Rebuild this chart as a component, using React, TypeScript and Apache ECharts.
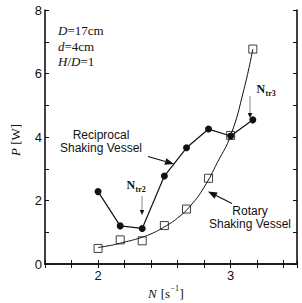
import React, { useEffect, useRef } from "react";
import * as echarts from "echarts";

// Shaking speed N [1/s] of the measured runs
const N_VALUES = [2.0, 2.167, 2.333, 2.5, 2.667, 2.833, 3.0, 3.167];
// Power consumption P [W]
const RECIPROCAL_P = [2.28, 1.2, 1.12, 2.77, 3.66, 4.25, 4.03, 4.54];
const ROTARY_P = [0.49, 0.76, 0.73, 1.21, 1.73, 2.7, 4.05, 6.77];
// Fitted curve through the rotary vessel results
const ROTARY_FIT_N = [2.0, 2.1, 2.2, 2.3, 2.4, 2.5, 2.6, 2.7, 2.8, 2.9, 3.0, 3.1, 3.167];
const ROTARY_FIT_P = [0.52, 0.59, 0.69, 0.8, 0.95, 1.17, 1.45, 1.85, 2.42, 3.2, 4.05, 5.5, 6.77];
// Axis settings
const X_MIN = 1.6;
const X_MAX = 3.5;
const X_STEP = 0.2;
const X_LABELS = [2, 3];
const Y_MIN = 0;
const Y_MAX = 8;
const Y_STEP = 1;
const Y_LABELS = [0, 2, 4, 6, 8];

const INK = "#111";
const SERIF = "'Liberation Serif', 'Times New Roman', serif";
const SANS = "'Liberation Sans', Arial, sans-serif";

function arrow(
  x1: number,
  y1: number,
  x2: number,
  y2: number,
  lineColor: string,
  lineWidth: number,
  headLen: number,
  headWidth: number
) {
  const dx = x2 - x1;
  const dy = y2 - y1;
  const len = Math.sqrt(dx * dx + dy * dy);
  const ux = dx / len;
  const uy = dy / len;
  const bx = x2 - ux * headLen;
  const by = y2 - uy * headLen;
  const px = -uy * (headWidth / 2);
  const py = ux * (headWidth / 2);
  return {
    type: "group",
    children: [
      {
        type: "line",
        shape: { x1, y1, x2: bx, y2: by },
        style: { stroke: lineColor, lineWidth },
        silent: true,
      },
      {
        type: "polygon",
        shape: {
          points: [
            [x2, y2],
            [bx + px, by + py],
            [bx - px, by - py],
          ],
        },
        style: { fill: INK },
        silent: true,
      },
    ],
  };
}

const isLabel = (v: number, list: number[]) =>
  list.some((t) => Math.abs(v - t) < 1e-6);

export default function App() {
  const ref = useRef<HTMLDivElement>(null);

  useEffect(() => {
    if (!ref.current) return;
    const chart = echarts.init(ref.current, null, { renderer: "svg" });

    const axisLine = { show: true, lineStyle: { color: INK, width: 1.6 } };
    const axisTick = { show: true, inside: true, length: 4, lineStyle: { color: INK, width: 1 } };

    const xBase = {
      type: "value",
      min: X_MIN,
      max: X_MAX,
      interval: X_STEP,
      axisLine,
      axisTick,
      splitLine: { show: false },
    };
    const yBase = {
      type: "value",
      min: Y_MIN,
      max: Y_MAX,
      interval: Y_STEP,
      axisLine,
      axisTick,
      splitLine: { show: false },
    };

    chart.setOption({
      animation: false,
      backgroundColor: "#fff",
      grid: {
        left: 45,
        top: 10,
        right: 5,
        bottom: 39,
        containLabel: false,
        outerBoundsMode: "none",
      },
      xAxis: [
        {
          ...xBase,
          position: "bottom",
          axisLabel: {
            show: true,
            margin: 5,
            color: INK,
            fontFamily: SANS,
            fontSize: 13,
            formatter: (v: number) => (isLabel(v, X_LABELS) ? String(Math.round(v)) : ""),
          },
        },
        { ...xBase, position: "top", axisLabel: { show: false } },
      ],
      yAxis: [
        {
          ...yBase,
          position: "left",
          axisLabel: {
            show: true,
            margin: 3,
            color: INK,
            fontFamily: SANS,
            fontSize: 13,
            formatter: (v: number) => (isLabel(v, Y_LABELS) ? String(Math.round(v)) : ""),
          },
        },
        { ...yBase, position: "right", axisLabel: { show: false } },
      ],
      series: [
        {
          name: "Rotary fit",
          type: "line",
          xAxisIndex: 0,
          yAxisIndex: 0,
          smooth: true,
          showSymbol: false,
          symbol: "none",
          lineStyle: { color: INK, width: 1 },
          data: ROTARY_FIT_N.map((n, i) => [n, ROTARY_FIT_P[i]]),
          z: 2,
        },
        {
          name: "Reciprocal Shaking Vessel",
          type: "line",
          xAxisIndex: 0,
          yAxisIndex: 0,
          symbol: "circle",
          symbolSize: 7,
          itemStyle: { color: INK },
          lineStyle: { color: INK, width: 1.2 },
          data: N_VALUES.map((n, i) => [n, RECIPROCAL_P[i]]),
          z: 3,
        },
        {
          name: "Rotary Shaking Vessel",
          type: "scatter",
          xAxisIndex: 0,
          yAxisIndex: 0,
          symbol: "rect",
          symbolSize: 8,
          itemStyle: { color: "rgba(255,255,255,0)", borderColor: INK, borderWidth: 1 },
          data: N_VALUES.map((n, i) => [n, ROTARY_P[i]]),
          z: 4,
        },
      ],
      graphic: [
        // Vessel dimensions
        {
          type: "text",
          left: 58,
          top: 23,
          style: {
            text: "{i|D}=17cm\n{i|d}=4cm\n{i|H}/{i|D}=1",
            font: `13px ${SERIF}`,
            fill: INK,
            lineHeight: 15.5,
            rich: {
              i: { fontStyle: "italic", fontFamily: SERIF, fontSize: 13, lineHeight: 15.5 },
            },
          },
        },
        // Curve labels
        {
          type: "text",
          x: 101,
          y: 141,
          style: {
            text: "Reciprocal\nShaking Vessel",
            font: `12px ${SANS}`,
            fill: INK,
            align: "center",
            verticalAlign: "middle",
            lineHeight: 13,
          },
        },
        arrow(148, 156.5, 174, 164, INK, 1.2, 9, 7),
        {
          type: "text",
          x: 250,
          y: 217,
          style: {
            text: "Rotary\nShaking Vessel",
            font: `12px ${SANS}`,
            fill: INK,
            align: "center",
            verticalAlign: "middle",
            lineHeight: 13,
          },
        },
        arrow(232, 203.5, 208, 191.5, INK, 1.2, 9, 7),
        // Transition speeds
        {
          type: "text",
          x: 126.5,
          y: 185,
          style: { text: "N", font: `bold 12px ${SERIF}`, fill: INK, verticalAlign: "middle" },
        },
        {
          type: "text",
          x: 135.5,
          y: 189,
          style: { text: "tr2", font: `bold 8px ${SERIF}`, fill: INK, verticalAlign: "middle" },
        },
        arrow(142, 196, 142, 215, "#888", 1, 5, 4.5),
        {
          type: "text",
          x: 256.5,
          y: 89,
          style: { text: "N", font: `bold 12px ${SERIF}`, fill: INK, verticalAlign: "middle" },
        },
        {
          type: "text",
          x: 265.5,
          y: 93,
          style: { text: "tr3", font: `bold 8px ${SERIF}`, fill: INK, verticalAlign: "middle" },
        },
        arrow(250, 96, 250, 118, "#888", 1, 5, 4.5),
        // Axis titles
        {
          type: "text",
          x: 15,
          y: 140,
          rotation: Math.PI / 2,
          style: {
            text: "{i|P} [W]",
            font: `13px ${SERIF}`,
            fill: INK,
            align: "center",
            verticalAlign: "middle",
            rich: { i: { fontStyle: "italic", fontFamily: SERIF, fontSize: 13 } },
          },
        },
        {
          type: "text",
          x: 148,
          y: 293,
          style: { text: "N", font: `italic 13px ${SERIF}`, fill: INK, verticalAlign: "middle" },
        },
        {
          type: "text",
          x: 157.5,
          y: 293,
          style: { text: " [s", font: `13px ${SERIF}`, fill: INK, verticalAlign: "middle" },
        },
        {
          type: "text",
          x: 170.5,
          y: 288,
          style: { text: "\u22121", font: `8px ${SERIF}`, fill: INK, verticalAlign: "middle" },
        },
        {
          type: "text",
          x: 179.5,
          y: 293,
          style: { text: "]", font: `13px ${SERIF}`, fill: INK, verticalAlign: "middle" },
        },
      ],
    });

    return () => chart.dispose();
  }, []);

  return (
    <div
      ref={ref}
      style={{ position: "absolute", left: 0, top: 0, width: 302, height: 303 }}
    />
  );
}
